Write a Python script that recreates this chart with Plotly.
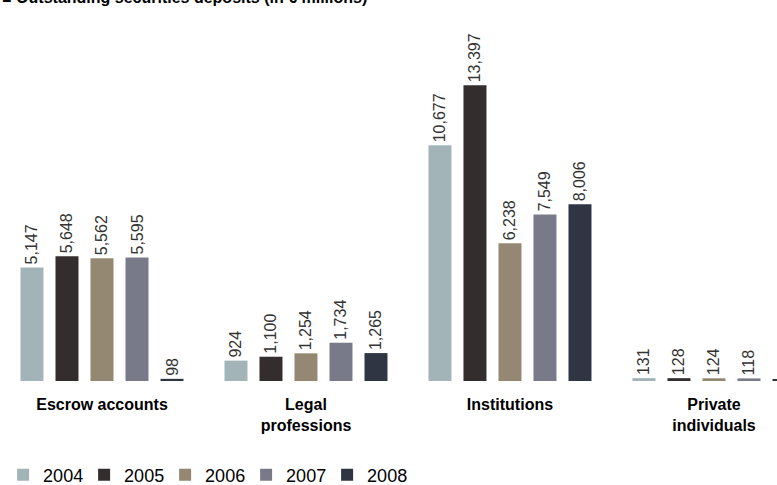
import plotly.graph_objects as go

categories = ["Escrow accounts", "Legal<br>professions", "Institutions", "Private<br>individuals"]
years = ["2004", "2005", "2006", "2007", "2008"]
v2004 = [5147, 924, 10677, 131]
v2005 = [5648, 1100, 13397, 128]
v2006 = [5562, 1254, 6238, 124]
v2007 = [5595, 1734, 7549, 118]
v2008 = [98, 1265, 8006, 73]
series = [v2004, v2005, v2006, v2007, v2008]
colors = ["#a3b4b9", "#332d2e", "#948872", "#787a8a", "#2f3542"]

fig = go.Figure()
for yr, vals, col in zip(years, series, colors):
    fig.add_trace(go.Bar(
        x=categories, y=vals, name=yr,
        marker=dict(color=col, line=dict(width=0)),
        text=[f"{v:,}" for v in vals],
        textposition="outside", textangle=-90,
        textfont=dict(family="Liberation Sans, Arial", size=16, color="#333333"),
        constraintext="none", cliponaxis=False,
    ))

fig.update_layout(
    width=777, height=485,
    margin=dict(l=0, r=0, t=40, b=104, autoexpand=False),
    paper_bgcolor="white", plot_bgcolor="white",
    barmode="group", bargap=0.142, bargroupgap=0.343,
    showlegend=True,
    legend=dict(orientation="h", x=0.004, xanchor="left", y=-0.2757, yanchor="middle",
                entrywidth=36, entrywidthmode="pixels",
                font=dict(family="Liberation Sans, Arial", size=18, color="#000000"),
                traceorder="normal", itemclick=False),
    xaxis=dict(range=[-0.5, 3.309], showline=False, showgrid=False, zeroline=False, ticks="",
               ticklabelstandoff=12,
               tickfont=dict(family="Liberation Sans, Arial", size=16, color="#000000", weight="bold")),
    yaxis=dict(range=[0, 15450], visible=False),
    annotations=[dict(
        text="<b>■ Outstanding securities deposits (in € millions)</b>",
        xref="paper", yref="paper", x=0.0, y=1 + 43 / 341, xanchor="left", yanchor="middle",
        showarrow=False, font=dict(family="Liberation Sans, Arial", size=16, color="#000000"),
    )],
)

fig.write_html("out.html")
